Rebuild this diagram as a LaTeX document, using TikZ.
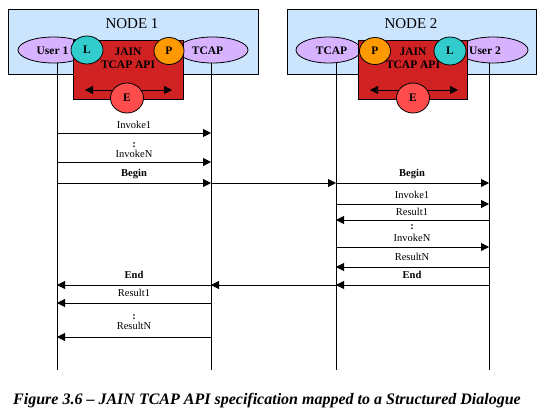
\documentclass[tikz,border=0pt]{standalone}
\usepackage{fontspec}
\setmainfont{Liberation Serif}
\usetikzlibrary{arrows.meta,shapes.geometric}
\definecolor{nodebg}{RGB}{204,229,255}
\definecolor{lav}{RGB}{214,178,255}
\definecolor{apired}{RGB}{208,34,34}
\definecolor{lteal}{RGB}{51,204,204}
\definecolor{porange}{RGB}{255,153,0}
\definecolor{ered}{RGB}{255,77,77}
\tikzset{
  nodebox/.style={draw=black, fill=nodebg, line width=0.8pt},
  ell/.style={ellipse, draw=black, fill=lav, line width=0.8pt, minimum height=26, inner sep=0pt},
  apibox/.style={draw=black, fill=apired, line width=0.8pt},
  circ/.style={ellipse, draw=black, line width=0.8pt, inner sep=0pt, font=\fontsize{11.5}{13}\selectfont\bfseries},
  bigtxt/.style={font=\fontsize{11.5}{13.5}\selectfont\bfseries, inner sep=0pt, align=center},
  lbl/.style={font=\fontsize{10.5}{12}\selectfont, inner sep=0pt},
  blbl/.style={font=\fontsize{10.5}{12}\selectfont\bfseries, inner sep=0pt},
  msg/.style={-{Triangle[length=8pt,width=8pt]}, line width=0.8pt},
  life/.style={line width=0.8pt},
  inner/.style={{Triangle[length=8pt,width=8pt]}-{Triangle[length=8pt,width=8pt]}, line width=0.8pt}
}
\begin{document}
\begin{tikzpicture}[x=1pt,y=-1pt]
\useasboundingbox (0,0) rectangle (546,420);
% ---------- NODE 1 ----------
\node[nodebox, minimum width=250, minimum height=65, anchor=north west] (n1) at (8,9) {};
\node[font=\fontsize{15}{17}\selectfont] (n1t) at (132,24) {NODE 1};
\node[ell, minimum width=71] (u1e) at (53.5,50) {};
\node[ell, minimum width=71] (t1e) at (212.5,50) {};
\node[bigtxt] (u1t) at (52.5,50.5) {User 1};
\node[bigtxt] (t1t) at (207.5,50.5) {TCAP};
\node[apibox, minimum width=110, minimum height=59, anchor=north west] (api1) at (73,40) {};
\node[bigtxt, text=black] (api1t) at (128,58.5) {JAIN\\TCAP API};
\coordinate (a1l) at (85,90);
\coordinate (a1r) at (172,90);
\draw[inner] (a1l) -- (a1r);
\node[circ, fill=lteal, minimum width=32, minimum height=28] (L1) at (87,50) {L};
\node[circ, fill=porange, minimum width=30, minimum height=27] (P1) at (169,51) {P};
\node[circ, fill=ered, minimum width=33, minimum height=30] (E1) at (127,98) {E};
% ---------- NODE 2 ----------
\node[nodebox, minimum width=249, minimum height=65, anchor=north west] (n2) at (287,9) {};
\node[font=\fontsize{15}{17}\selectfont] (n2t) at (411,24) {NODE 2};
\node[ell, minimum width=65] (t2e) at (328.5,50) {};
\node[ell, minimum width=70] (u2e) at (493,50) {};
\node[bigtxt] (t2t) at (331.5,50.5) {TCAP};
\node[bigtxt] (u2t) at (485,50.5) {User 2};
\node[apibox, minimum width=109, minimum height=59, anchor=north west] (api2) at (358,40) {};
\node[bigtxt, text=black] (api2t) at (413,58.5) {JAIN\\TCAP API};
\coordinate (a2l) at (370,90);
\coordinate (a2r) at (458,90);
\draw[inner] (a2l) -- (a2r);
\node[circ, fill=porange, minimum width=31, minimum height=27] (P2) at (375,51) {P};
\node[circ, fill=lteal, minimum width=32, minimum height=28] (L2) at (450,51) {L};
\node[circ, fill=ered, minimum width=33, minimum height=30] (E2) at (413,98) {E};
% ---------- lifelines ----------
\coordinate (lu1) at (57,370);
\coordinate (lt1) at (211,370);
\coordinate (lt2) at (336,370);
\coordinate (lu2) at (489,370);
\draw[life] (57,63) -- (lu1);
\draw[life] (211,63) -- (lt1);
\draw[life] (336,63) -- (lt2);
\draw[life] (489,63) -- (lu2);
% ---------- messages left ----------
\draw[msg] (lu1 |- 0,133) -- (lt1 |- 0,133);
\node[lbl] (m1) at (134,125) {Invoke1};
\node[blbl] (d1) at (134,145) {:};
\draw[msg] (lu1 |- 0,162) -- (lt1 |- 0,162);
\node[lbl] (m2) at (134,154) {InvokeN};
\draw[msg] (lu1 |- 0,183) -- (lt1 |- 0,183);
\draw[msg] (lt1 |- 0,183) -- (lt2 |- 0,183);
\node[blbl] (m3) at (134,174) {Begin};
% ---------- messages right ----------
\draw[msg] (lt2 |- 0,183) -- (lu2 |- 0,183);
\node[blbl] (m4) at (412,174) {Begin};
\draw[msg] (lt2 |- 0,204) -- (lu2 |- 0,204);
\node[lbl] (m5) at (412,195) {Invoke1};
\draw[msg] (lu2 |- 0,220) -- (lt2 |- 0,220);
\node[lbl] (m6) at (412,212) {Result1};
\node[blbl] (d2) at (412,227) {:};
\draw[msg] (lt2 |- 0,247) -- (lu2 |- 0,247);
\node[lbl] (m7) at (412,238) {InvokeN};
\draw[msg] (lu2 |- 0,267) -- (lt2 |- 0,267);
\node[lbl] (m8) at (412,257) {ResultN};
\draw[msg] (lu2 |- 0,285) -- (lt2 |- 0,285);
\node[blbl] (m9) at (412,275) {End};
% ---------- messages left bottom ----------
\draw[msg] (lt2 |- 0,285) -- (lt1 |- 0,285);
\draw[msg] (lt1 |- 0,285) -- (lu1 |- 0,285);
\node[blbl] (m10) at (134,275) {End};
\draw[msg] (lt1 |- 0,303) -- (lu1 |- 0,303);
\node[lbl] (m11) at (134,293) {Result1};
\node[blbl] (d3) at (134,317) {:};
\draw[msg] (lt1 |- 0,337) -- (lu1 |- 0,337);
\node[lbl] (m12) at (134,326) {ResultN};
% ---------- caption ----------
\node[font=\fontsize{16}{18}\selectfont\bfseries\itshape, inner sep=0pt] (cap) at (267,401)
  {Figure 3.6 -- JAIN TCAP API specification mapped to a Structured Dialogue};
\end{tikzpicture}
\end{document}
